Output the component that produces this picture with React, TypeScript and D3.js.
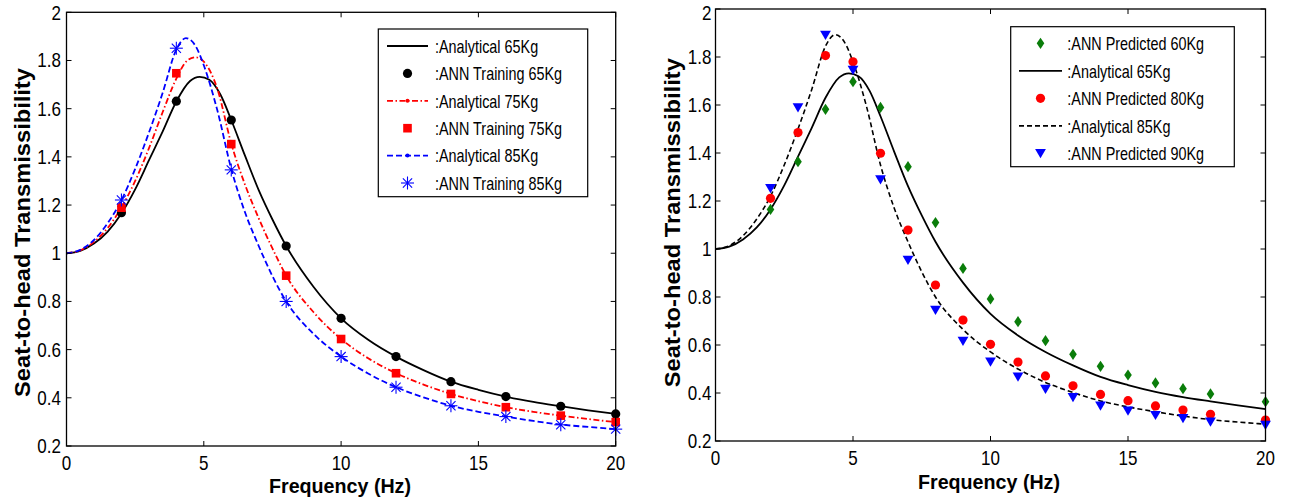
import React from 'react';
import * as d3 from 'd3';

// ---------- shared ticks ----------
const xTicks = [0, 5, 10, 15, 20];
const yTicks = [0.2, 0.4, 0.6, 0.8, 1, 1.2, 1.4, 1.6, 1.8, 2];
const yTickLabels = ['0.2', '0.4', '0.6', '0.8', '1', '1.2', '1.4', '1.6', '1.8', '2'];
const xTickLabels = ['0', '5', '10', '15', '20'];
const xTitle = 'Frequency (Hz)';
const yTitle = 'Seat-to-head Transmissibility';

// ---------- analytical curves ----------
const freq65 = [0, 0.5, 1, 1.5, 2, 2.5, 3, 3.5, 4, 4.5, 4.85, 5.2, 5.6, 6, 6.5, 7, 7.5, 8, 9, 10, 11, 12, 13, 14, 15, 16, 17, 18, 19, 20];
const analytical65 = [1.0, 1.01, 1.04, 1.09, 1.165, 1.265, 1.385, 1.505, 1.63, 1.715, 1.732, 1.72, 1.66, 1.553, 1.405, 1.262, 1.14, 1.03, 0.86, 0.73, 0.64, 0.571, 0.515, 0.467, 0.433, 0.405, 0.383, 0.365, 0.348, 0.333];

const freq75 = [0, 0.5, 1, 1.5, 2, 2.5, 3, 3.5, 4, 4.4, 4.7, 5, 5.5, 6, 6.5, 7, 7.5, 8, 9, 10, 11, 12, 13, 14, 15, 16, 17, 18, 19, 20];
const analytical75 = [1.0, 1.012, 1.047, 1.105, 1.19, 1.3, 1.435, 1.585, 1.725, 1.8, 1.813, 1.795, 1.68, 1.455, 1.285, 1.145, 1.02, 0.907, 0.755, 0.644, 0.563, 0.502, 0.455, 0.416, 0.386, 0.361, 0.342, 0.326, 0.312, 0.299];

const freq85 = [0, 0.5, 1, 1.5, 2, 2.5, 3, 3.5, 4, 4.35, 4.7, 5, 5.5, 6, 6.5, 7, 7.5, 8, 9, 10, 11, 12, 13, 14, 15, 16, 17, 18, 19, 20];
const analytical85 = [1.0, 1.014, 1.055, 1.125, 1.22, 1.35, 1.5, 1.665, 1.845, 1.893, 1.86, 1.78, 1.59, 1.35, 1.17, 1.03, 0.905, 0.8, 0.665, 0.571, 0.5, 0.444, 0.402, 0.367, 0.342, 0.322, 0.304, 0.289, 0.279, 0.27];

// ---------- ANN training points (left) ----------
const trainFreq = [2, 4, 6, 8, 10, 12, 14, 16, 18, 20];
const train65 = [1.168, 1.631, 1.553, 1.03, 0.73, 0.571, 0.467, 0.405, 0.365, 0.333];
const train75 = [1.189, 1.747, 1.453, 0.907, 0.644, 0.502, 0.416, 0.361, 0.326, 0.299];
const train85 = [1.221, 1.851, 1.346, 0.8, 0.571, 0.444, 0.367, 0.322, 0.288, 0.27];

// ---------- ANN predicted points (right) ----------
const predFreq = [2, 3, 4, 5, 6, 7, 8, 9, 10, 11, 12, 13, 14, 15, 16, 17, 18, 20];
const pred60 = [1.165, 1.364, 1.582, 1.697, 1.59, 1.343, 1.11, 0.919, 0.792, 0.697, 0.618, 0.561, 0.511, 0.475, 0.442, 0.418, 0.396, 0.364];
const pred80 = [1.211, 1.485, 1.806, 1.78, 1.399, 1.079, 0.85, 0.704, 0.603, 0.529, 0.471, 0.43, 0.394, 0.368, 0.346, 0.329, 0.311, 0.287];
const pred90 = [1.253, 1.59, 1.892, 1.746, 1.29, 0.954, 0.746, 0.617, 0.53, 0.468, 0.417, 0.382, 0.347, 0.326, 0.308, 0.295, 0.28, 0.267];

const leftLegend = [':Analytical 65Kg', ':ANN Training 65Kg', ':Analytical 75Kg', ':ANN Training 75Kg', ':Analytical 85Kg', ':ANN Training 85Kg'];
const rightLegend = [':ANN Predicted 60Kg', ':Analytical 65Kg', ':ANN Predicted 80Kg', ':Analytical 85Kg', ':ANN Predicted 90Kg'];

const FONT = 'Liberation Sans, Arial, Helvetica, sans-serif';
const RED = '#ff0000';
const BLUE = '#0000ff';
const GREEN = '#0a7d0a';

type LineSpec = { xs: number[]; ys: number[]; color: string; dash?: string; width: number };
type MarkSpec = { xs: number[]; ys: number[]; color: string; shape: string };
type LegendItem = { label: string; line?: { color: string; dash?: string; dot?: boolean }; marker?: { color: string; shape: string } };

function Marker({ x, y, shape, color }: { x: number; y: number; shape: string; color: string }) {
  switch (shape) {
    case 'circle':
      return <circle cx={x} cy={y} r={4.6} fill={color} />;
    case 'square':
      return <rect x={x - 4.3} y={y - 4.3} width={8.6} height={8.6} fill={color} />;
    case 'diamond':
      return <path d={`M${x},${y - 5.6}L${x + 3.8},${y}L${x},${y + 5.6}L${x - 3.8},${y}Z`} fill={color} />;
    case 'triDown':
      return <path d={`M${x - 5.4},${y - 4.2}L${x + 5.4},${y - 4.2}L${x},${y + 5}Z`} fill={color} />;
    case 'star': {
      const r = 6.5;
      const d = 4.6;
      return (
        <g stroke={color} strokeWidth={1.1}>
          <line x1={x} y1={y - r} x2={x} y2={y + r} />
          <line x1={x - r} y1={y} x2={x + r} y2={y} />
          <line x1={x - d} y1={y - d} x2={x + d} y2={y + d} />
          <line x1={x - d} y1={y + d} x2={x + d} y2={y - d} />
        </g>
      );
    }
    default:
      return null;
  }
}

type PanelProps = {
  id: string;
  L: number; T: number; R: number; B: number;
  lines: LineSpec[];
  marks: MarkSpec[];
  legend: LegendItem[];
  legendBox: { x0: number; y0: number; x1: number; y1: number; row0: number; step: number; s0: number; s1: number; tx: number };
  yLabelX: number; yLabelCy: number;
  xLabelCx: number; xLabelY: number;
  xTickY: number; yTickEnd: number;
};

function Panel(p: PanelProps) {
  const x = d3.scaleLinear().domain([0, 20]).range([p.L, p.R]);
  const y = d3.scaleLinear().domain([0.2, 2]).range([p.B, p.T]);
  const tl = 5;
  const lg = p.legendBox;
  return (
    <g>
      <defs>
        <clipPath id={`clip-${p.id}`}>
          <rect x={p.L} y={p.T} width={p.R - p.L} height={p.B - p.T} />
        </clipPath>
      </defs>
      <g clipPath={`url(#clip-${p.id})`}>
        {p.lines.map((ln, i) => {
          const gen = d3.line<number>().x((_, k) => x(ln.xs[k])).y((v) => y(v)).curve(d3.curveMonotoneX);
          return <path key={i} d={gen(ln.ys) || ''} fill="none" stroke={ln.color} strokeWidth={ln.width} strokeDasharray={ln.dash} />;
        })}
      </g>
      {p.marks.map((m, i) => (
        <g key={i}>
          {m.ys.map((v, k) => (
            <Marker key={k} x={x(m.xs[k])} y={y(v)} shape={m.shape} color={m.color} />
          ))}
        </g>
      ))}
      {/* axes box */}
      <rect x={p.L} y={p.T} width={p.R - p.L} height={p.B - p.T} fill="none" stroke="#000" strokeWidth={1.3} />
      {xTicks.map((t) => (
        <g key={`xt${t}`} stroke="#000" strokeWidth={1}>
          <line x1={x(t)} x2={x(t)} y1={p.B} y2={p.B - tl} />
          <line x1={x(t)} x2={x(t)} y1={p.T} y2={p.T + tl} />
        </g>
      ))}
      {yTicks.map((t) => (
        <g key={`yt${t}`} stroke="#000" strokeWidth={1}>
          <line x1={p.L} x2={p.L + tl} y1={y(t)} y2={y(t)} />
          <line x1={p.R} x2={p.R - tl} y1={y(t)} y2={y(t)} />
        </g>
      ))}
      {xTicks.map((t, i) => (
        <text key={`xl${t}`} transform={`translate(${x(t)},${p.xTickY}) scale(0.85,1)`} textAnchor="middle" fontSize={20} fontFamily={FONT} fill="#000">
          {xTickLabels[i]}
        </text>
      ))}
      {yTicks.map((t, i) => (
        <text key={`yl${t}`} transform={`translate(${p.yTickEnd},${Math.max(y(t) + 7, 19.5)}) scale(0.85,1)`} textAnchor="end" fontSize={20} fontFamily={FONT} fill="#000">
          {yTickLabels[i]}
        </text>
      ))}
      <text x={p.xLabelCx} y={p.xLabelY} textAnchor="middle" fontSize={20} fontWeight="bold" fontFamily={FONT} textLength={142} lengthAdjust="spacingAndGlyphs">
        {xTitle}
      </text>
      <text transform={`translate(${p.yLabelX},${p.yLabelCy}) rotate(-90)`} textAnchor="middle" fontSize={22} fontWeight="bold" fontFamily={FONT} textLength={329} lengthAdjust="spacingAndGlyphs">
        {yTitle}
      </text>
      {/* legend */}
      <rect x={lg.x0} y={lg.y0} width={lg.x1 - lg.x0} height={lg.y1 - lg.y0} fill="#fff" stroke="#000" strokeWidth={1.2} />
      {p.legend.map((it, i) => {
        const ry = lg.row0 + i * lg.step;
        const mx = (lg.s0 + lg.s1) / 2;
        return (
          <g key={`lg${i}`}>
            {it.line && (
              <line x1={lg.s0} x2={lg.s1} y1={ry} y2={ry} stroke={it.line.color} strokeWidth={1.8} strokeDasharray={it.line.dash} />
            )}
            {it.line && it.line.dot && <circle cx={mx} cy={ry} r={2} fill={it.line.color} />}
            {it.marker && <Marker x={mx} y={ry} shape={it.marker.shape} color={it.marker.color} />}
            <text transform={`translate(${lg.tx},${ry + 6.8}) scale(0.8,1)`} fontSize={18} fontFamily={FONT} fill="#000">
              {it.label}
            </text>
          </g>
        );
      })}
    </g>
  );
}

export default function App() {
  const dashDot = '6,2.5,1.5,2.5';
  const dashed = '6,3';
  const dashedBlack = '5,3';
  return (
    <svg width={1289} height={502} style={{ position: 'absolute', left: 0, top: 0, background: '#fff' }}>
      <rect x={0} y={0} width={1289} height={502} fill="#fff" />
      <Panel
        id="left"
        L={66.5} T={12.3} R={615.7} B={446}
        lines={[
          { xs: freq65, ys: analytical65, color: '#000', width: 1.8 },
          { xs: freq75, ys: analytical75, color: RED, width: 1.8, dash: dashDot },
          { xs: freq85, ys: analytical85, color: BLUE, width: 1.8, dash: dashed },
        ]}
        marks={[
          { xs: trainFreq, ys: train65, color: '#000', shape: 'circle' },
          { xs: trainFreq, ys: train75, color: RED, shape: 'square' },
          { xs: trainFreq, ys: train85, color: BLUE, shape: 'star' },
        ]}
        legend={[
          { label: leftLegend[0], line: { color: '#000' } },
          { label: leftLegend[1], marker: { color: '#000', shape: 'circle' } },
          { label: leftLegend[2], line: { color: RED, dash: dashDot, dot: true } },
          { label: leftLegend[3], marker: { color: RED, shape: 'square' } },
          { label: leftLegend[4], line: { color: BLUE, dash: dashed, dot: true } },
          { label: leftLegend[5], marker: { color: BLUE, shape: 'star' } },
        ]}
        legendBox={{ x0: 378.3, y0: 29, x1: 587.7, y1: 196.7, row0: 46, step: 27.4, s0: 387, s1: 428, tx: 435 }}
        yLabelX={30} yLabelCy={232.5}
        xLabelCx={340} xLabelY={493}
        xTickY={470} yTickEnd={61}
      />
      <Panel
        id="right"
        L={715.5} T={9} R={1265.5} B={441}
        lines={[
          { xs: freq65, ys: analytical65, color: '#000', width: 1.8 },
          { xs: freq85, ys: analytical85, color: '#000', width: 1.6, dash: dashedBlack },
        ]}
        marks={[
          { xs: predFreq, ys: pred60, color: GREEN, shape: 'diamond' },
          { xs: predFreq, ys: pred80, color: RED, shape: 'circle' },
          { xs: predFreq, ys: pred90, color: BLUE, shape: 'triDown' },
        ]}
        legend={[
          { label: rightLegend[0], marker: { color: GREEN, shape: 'diamond' } },
          { label: rightLegend[1], line: { color: '#000' } },
          { label: rightLegend[2], marker: { color: RED, shape: 'circle' } },
          { label: rightLegend[3], line: { color: '#000', dash: dashedBlack } },
          { label: rightLegend[4], marker: { color: BLUE, shape: 'triDown' } },
        ]}
        legendBox={{ x0: 1010.7, y0: 26.7, x1: 1234.3, y1: 166.7, row0: 43.3, step: 27.5, s0: 1019, s1: 1062, tx: 1067.3 }}
        yLabelX={680} yLabelCy={222.7}
        xLabelCx={989} xLabelY={489}
        xTickY={465} yTickEnd={711.5}
      />
    </svg>
  );
}
